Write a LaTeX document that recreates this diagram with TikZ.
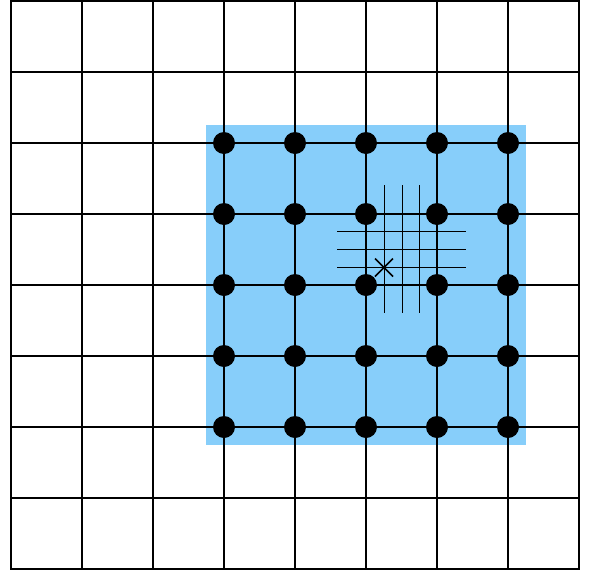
\documentclass[tikz,border=0pt]{standalone}
\definecolor{skyfill}{RGB}{135,206,250}
\tikzset{
  gridline/.style={line width=2.1pt, black},
  fineline/.style={line width=1.2pt, black},
  dot/.style={circle, fill=black, inner sep=0pt, minimum size=22pt},
  crossmark/.style={line width=1.7pt, black}
}
\begin{document}
\begin{tikzpicture}[x=1pt,y=-1pt]
\useasboundingbox (0,0) rectangle (595,571);
\fill[skyfill] (206,124.5) rectangle (526,444.5);
\foreach \i/\p in {0/11,1/82,2/153,3/224,4/295,5/366,6/437,7/508,8/579} {
  \draw[gridline, line cap=rect] (\p,1) -- (\p,569);
}
\foreach \i/\p in {0/1,1/72,2/143,3/214,4/285,5/356,6/427,7/498,8/569} {
  \draw[gridline, line cap=rect] (11,\p) -- (579,\p);
}
\foreach \x in {384.5,402.5,419.5} {
  \draw[fineline] (\x,185) -- (\x,313.3);
}
\foreach \y in {231.5,249.5,267.5} {
  \draw[fineline] (337.3,\y) -- (465.7,\y);
}
\foreach \i/\px in {3/224,4/295,5/366,6/437,7/508} {
  \foreach \j/\py in {2/143,3/214,4/285,5/356,6/427} {
    \node[dot] (d-\i-\j) at (\px,\py) {};
  }
}
\coordinate (xc) at (384,267.5);
\draw[crossmark] ([shift={(-9,-9)}]xc) -- ([shift={(9,9)}]xc);
\draw[crossmark] ([shift={(-9,9)}]xc) -- ([shift={(9,-9)}]xc);
\end{tikzpicture}
\end{document}
